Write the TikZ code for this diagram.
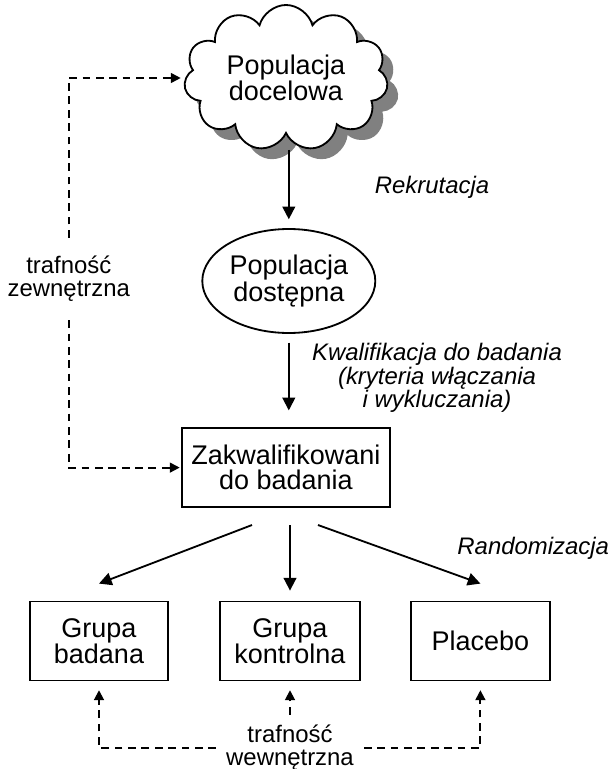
\documentclass[tikz,border=0pt]{standalone}
\usepackage{fontspec}
\setmainfont{Liberation Sans}
\usepackage{tikz}
\usetikzlibrary{arrows.meta,shapes,shadows}

\begin{document}
\begin{tikzpicture}[
    big/.style={font=\fontsize{19.2}{17.8}\selectfont, align=center},
    lbl/.style={font=\fontsize{17}{16.6}\selectfont\itshape, align=center},
    val/.style={font=\fontsize{17}{16.6}\selectfont, align=center},
    box/.style={big, draw, line width=1.3pt, minimum height=1.975cm, inner sep=0pt},
    arr/.style={line width=1.3pt, -{Triangle[length=9pt,width=9pt]}},
    dsh/.style={line width=1.3pt, dash pattern=on 5.5pt off 4pt, -{Triangle[length=7pt,width=7pt]}}]
  \useasboundingbox (0,0) rectangle (15.25,-19.225);
  \node (cl) [big, cloud, cloud puffs=11, cloud ignores aspect, draw, line width=1.3pt, fill=white,
    minimum width=5.1cm, minimum height=3.65cm, inner sep=0pt,
    drop shadow={shadow xshift=0.27cm, shadow yshift=-0.27cm, fill=gray, opacity=1}]
    at (7.15,-1.95) {Populacja\\docelowa};
  \node (pd) [big, ellipse, draw, line width=1.3pt, minimum width=4.325cm, minimum height=2.6cm, inner sep=0pt]
    at (7.22,-7.025) {Populacja\\dostępna};
  \node (zk) [box, minimum width=5.2cm] at (7.15,-11.69) {Zakwalifikowani\\do badania};
  \node (gb) [box, minimum width=3.45cm] at (2.475,-16.025) {Grupa\\badana};
  \node (gk) [box, minimum width=3.5cm] at (7.25,-16.025) {Grupa\\kontrolna};
  \node (pl) [box, minimum width=3.475cm] at (12.01,-16.025) {Placebo};
  % labels
  \node (rk) [lbl] at (10.8,-4.675) {Rekrutacja};
  \node (kw) [lbl] at (10.925,-9.45) {Kwalifikacja do badania\\(kryteria włączania\\i wykluczania)};
  \node (rd) [lbl] at (13.33,-13.7) {Randomizacja};
  \node (tz) [val, inner xsep=0pt, inner ysep=0.45cm] at (1.72,-6.975) {trafność\\zewnętrzna};
  \node (tw) [val, inner sep=0.25cm] at (7.25,-18.7) {trafność\\wewnętrzna};
  % solid arrows
  \draw [arr, shorten <=0.375cm, shorten >=0.22cm] (cl.south -| pd.north) -- (pd.north);
  \draw [arr, shorten <=0.22cm, shorten >=0.42cm] (pd.south) -- (pd.south |- zk.north);
  \draw [arr] ([xshift=-0.85cm,yshift=-0.425cm]zk.south) -- ([yshift=0.425cm]gb.north);
  \draw [arr, shorten <=0.425cm, shorten >=0.25cm] (gk.north |- zk.south) -- (gk.north);
  \draw [arr] ([xshift=0.8cm,yshift=-0.425cm]zk.south) -- ([yshift=0.425cm]pl.north);
  % dashed arrows
  \draw [dsh, shorten >=3pt] (tz.north) |- (cl.west);
  \draw [dsh, shorten >=1pt] (tz.south) |- (zk.west);
  \draw [dsh, shorten >=0.22cm] (tw.west) -| (gb.south);
  \draw [dsh, shorten >=0.22cm] (tw.north) -- (gk.south);
  \draw [dsh, shorten >=0.22cm] (tw.east) -| (pl.south);
\end{tikzpicture}
\end{document}
